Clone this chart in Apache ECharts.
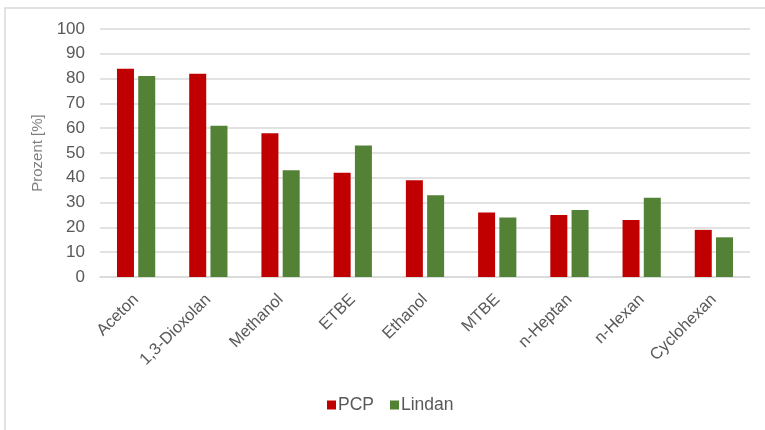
<!DOCTYPE html>
<html>
<head>
<meta charset="utf-8">
<script src="https://cdn.jsdelivr.net/npm/echarts@6/dist/echarts.min.js"></script>
<style>
  html, body { margin: 0; padding: 0; background: #ffffff; }
  #chart { width: 765px; height: 430px; }
</style>
</head>
<body>
<div id="chart"></div>
<script>
// Solvents tested
const categories = ['Aceton', '1,3-Dioxolan', 'Methanol', 'ETBE', 'Ethanol', 'MTBE', 'n-Heptan', 'n-Hexan', 'Cyclohexan'];
// Percentages per substance
const pcpValues = [84, 82, 58, 42, 39, 26, 25, 23, 19];
const lindanValues = [81, 61, 43, 53, 33, 24, 27, 32, 16];
// Value axis ticks
const yTicks = [0, 10, 20, 30, 40, 50, 60, 70, 80, 90, 100];

const chart = echarts.init(document.getElementById('chart'), null, { renderer: 'canvas' });
const textFont = 'Liberation Sans, Arial, sans-serif';

chart.setOption({
  animation: false,
  backgroundColor: '#ffffff',
  graphic: [{
    type: 'rect',
    shape: { x: 5, y: 8, width: 800, height: 440 },
    style: { fill: 'none', stroke: '#d9d9d9', lineWidth: 1.5 },
    silent: true
  }],
  grid: { left: 100, right: 15, top: 29, bottom: 153 },
  legend: {
    data: ['PCP', 'Lindan'],
    top: 391,
    left: 322,
    itemWidth: 9,
    itemHeight: 9,
    itemGap: 16,
    icon: 'rect',
    textStyle: { fontFamily: textFont, fontSize: 17.5, color: '#595959', padding: [0, 0, 0, -3] }
  },
  xAxis: {
    type: 'category',
    data: categories,
    axisLine: { show: true, lineStyle: { color: '#d9d9d9', width: 1.5 } },
    axisTick: { show: false },
    axisLabel: {
      rotate: 45,
      interval: 0,
      margin: 20,
      fontFamily: textFont,
      fontSize: 16.5,
      color: '#595959'
    }
  },
  yAxis: {
    type: 'value',
    min: yTicks[0],
    max: yTicks[yTicks.length - 1],
    interval: 10,
    name: 'Prozent [%]',
    nameLocation: 'middle',
    nameRotate: 90,
    nameGap: 51,
    nameTextStyle: { fontFamily: textFont, fontSize: 15, color: '#7f7f7f' },
    axisLine: { show: false },
    axisTick: { show: false },
    axisLabel: { fontFamily: textFont, fontSize: 17, color: '#595959', margin: 15 },
    splitLine: { lineStyle: { color: '#d9d9d9', width: 1.5 } }
  },
  series: [
    {
      name: 'PCP',
      type: 'bar',
      data: pcpValues,
      barWidth: 17,
      barGap: '25%',
      itemStyle: { color: '#c00000' }
    },
    {
      name: 'Lindan',
      type: 'bar',
      data: lindanValues,
      barWidth: 17,
      barGap: '25%',
      itemStyle: { color: '#538135' }
    }
  ]
});
</script>
</body>
</html>
